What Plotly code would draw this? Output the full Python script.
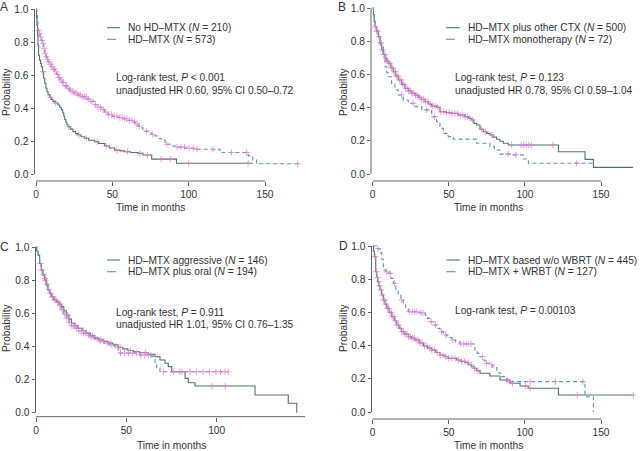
import numpy as np
import plotly.graph_objects as go

W, H = 640, 451
SOLID = "#4b7a62"
DASH = "#5896bd"
PINK = "#e07ccf"
AXC = "#666666"
TXT = "#333333"
FONT = "Liberation Sans"
FS = 10.2

# ---------------- Panel A: No HD-MTX vs HD-MTX ----------------
a_solid_t = [0, 0.3, 0.6, 1.0, 1.3, 1.7, 2.3, 3.0, 3.5, 4.2, 5.0, 5.7, 6.5, 7.2, 7.9, 9, 10, 11.1, 12.5,
             14.4, 15.5, 16.6, 17.5, 18.2, 18.8, 19.5, 20.2, 21, 22.5, 24.2, 26, 27.5, 29.5, 31.9, 34.5,
             38.4, 41, 45, 48, 51.5, 55, 58, 62, 66.8, 70, 75.8, 92, 142]
a_solid_s = [1.0, 0.95, 0.90, 0.84, 0.78, 0.72, 0.69, 0.67, 0.65, 0.62, 0.58, 0.55, 0.52, 0.50, 0.48,
             0.465, 0.452, 0.44, 0.43, 0.418, 0.405, 0.39, 0.37, 0.35, 0.33, 0.315, 0.30, 0.287, 0.272,
             0.257, 0.245, 0.236, 0.226, 0.216, 0.205, 0.196, 0.185, 0.17, 0.158, 0.145, 0.14, 0.135,
             0.13, 0.125, 0.115, 0.09, 0.065, 0.065]
a_solid_cens = [4.5, 9.5, 13, 21.5, 28, 33, 40, 46, 53, 60, 68, 73, 82, 88, 100, 139]

a_dash_t = [0, 0.5, 1, 1.3, 2, 2.7, 3.5, 4.2, 5, 5.7, 6.5, 7.2, 7.9, 9, 10, 11.1, 12.5, 13.5, 14.4, 15.8,
            17, 18.8, 20.5, 22, 23.1, 25, 27.5, 30, 33, 35.5, 38.4, 40.5, 42.8, 45, 47.2, 50, 53.7, 57,
            60.3, 63, 65, 66.8, 68.5, 70, 71.4, 73.5, 75.5, 77.9, 80, 82, 84.5, 88, 92, 97.6, 104,
            120.5, 139, 142, 144.5, 172]
a_dash_s = [1.0, 0.96, 0.92, 0.87, 0.85, 0.83, 0.81, 0.79, 0.76, 0.73, 0.71, 0.695, 0.68, 0.665, 0.65,
            0.635, 0.62, 0.605, 0.585, 0.57, 0.555, 0.535, 0.52, 0.51, 0.50, 0.49, 0.479, 0.468, 0.455,
            0.44, 0.42, 0.405, 0.39, 0.375, 0.36, 0.35, 0.342, 0.335, 0.325, 0.315, 0.305, 0.29, 0.28,
            0.27, 0.26, 0.25, 0.24, 0.23, 0.215, 0.205, 0.18, 0.17, 0.163, 0.156, 0.15, 0.13, 0.11,
            0.085, 0.062, 0.062]
a_dash_cens = [1.8, 2.4, 3.1, 3.8, 4.6, 5.3, 6.1, 6.8, 7.5, 8.3, 9.2, 9.8, 10.6, 11.4, 12.1, 13.0, 13.9,
               14.7, 15.5, 16.4, 17.3, 18.1, 19.2, 20.0, 21.1, 22.3, 23.6, 24.4, 25.5, 26.7, 27.9, 29.1,
               30.4, 31.6, 32.8, 34.2, 35.9, 37.3, 39.0, 40.6, 42.2, 43.9, 45.8, 47.6, 49.3, 51.2, 53.0,
               54.9, 56.4, 58.1, 59.6, 61.2, 62.9, 64.5, 66.1, 67.6, 72.5, 76.4, 85.6, 92.4, 95, 97.3,
               100.2, 103, 105.5, 116, 128, 138, 171.5]

# ---------------- Panel B: plus other CTX vs monotherapy ----------------
b_solid_t = [0, 0.5, 1, 1.5, 2.5, 3.7, 4.8, 5.9, 7, 8.1, 9.2, 10.3, 12, 13.5, 15, 16.8, 19, 21.2, 23.5,
             25.6, 28, 30, 32, 34.4, 36.5, 38.8, 42, 44.2, 48, 51.9, 56, 60.6, 63, 65, 66.5, 68.3, 70.5,
             72.7, 75, 77, 79, 81.4, 83.5, 85.8, 89.1, 122, 139.5, 145, 171]
b_solid_s = [1.0, 0.96, 0.92, 0.887, 0.86, 0.827, 0.79, 0.747, 0.72, 0.697, 0.68, 0.667, 0.64, 0.616,
             0.59, 0.566, 0.54, 0.516, 0.50, 0.486, 0.474, 0.462, 0.45, 0.436, 0.422, 0.41, 0.402, 0.375,
             0.37, 0.365, 0.355, 0.345, 0.335, 0.325, 0.305, 0.295, 0.27, 0.255, 0.245, 0.235, 0.222,
             0.209, 0.197, 0.185, 0.175, 0.134, 0.088, 0.04, 0.04]
b_solid_cens = [1.8, 2.6, 3.3, 4.1, 5.0, 5.6, 6.4, 7.3, 8.0, 8.8, 9.6, 10.5, 11.3, 12.2, 13.1, 14.0,
                14.9, 15.8, 16.7, 17.7, 18.6, 19.6, 20.5, 21.6, 22.6, 23.7, 24.8, 25.9, 27.1, 28.2, 29.5,
                30.7, 32.0, 33.4, 34.7, 36.2, 37.8, 39.3, 41.0, 42.8, 44.8, 46.6, 48.5, 50.3, 52.1, 54.0,
                55.8, 57.5, 59.2, 60.8, 62.3, 64.0, 65.6, 71.5, 74.3, 78.2, 91.3, 97.5, 99.2, 100.8,
                102.6, 104.3, 118.5]

b_dash_t = [0, 0.5, 1, 1.5, 2.5, 3.7, 5, 7, 8.1, 9.2, 10.3, 12.4, 14.6, 16.8, 20.1, 23.4, 27.8, 32.2,
            36.6, 38.8, 42, 44.2, 46.4, 49.7, 53, 68.3, 77, 80, 83.6, 92.4, 98.8, 102.3, 145]
b_dash_s = [1.0, 0.96, 0.92, 0.887, 0.86, 0.827, 0.78, 0.72, 0.646, 0.61, 0.586, 0.546, 0.506, 0.476,
            0.446, 0.426, 0.406, 0.386, 0.382, 0.345, 0.315, 0.275, 0.245, 0.225, 0.21, 0.185, 0.165,
            0.145, 0.12, 0.115, 0.09, 0.065, 0.065]
b_dash_cens = [19, 26.5, 35.5, 40.5, 89, 94, 134]

# ---------------- Panel C: aggressive vs plus oral ----------------
c_solid_t = [0, 0.2, 1.1, 2, 2.9, 3.8, 4.8, 5.7, 6.6, 7.5, 8.5, 9.8, 11.3, 12.7, 14, 15.4, 16.8, 18.2,
             19.6, 21.4, 23.2, 25.5, 27.8, 30, 32.5, 34.8, 37.1, 40, 42.6, 45.4, 48, 50.9, 54, 57.4,
             62.1, 65.9, 68.6, 71.4, 73.2, 75.1, 82.5, 84.3, 88, 121.2, 139.6, 144.3]
c_solid_s = [1.0, 0.976, 0.952, 0.90, 0.861, 0.83, 0.80, 0.77, 0.74, 0.72, 0.70, 0.685, 0.67, 0.655,
             0.64, 0.615, 0.59, 0.565, 0.54, 0.525, 0.51, 0.495, 0.48, 0.465, 0.45, 0.44, 0.43, 0.42,
             0.41, 0.395, 0.385, 0.375, 0.368, 0.362, 0.352, 0.338, 0.318, 0.298, 0.278, 0.247, 0.207,
             0.181, 0.161, 0.107, 0.057, 0.0]
c_solid_cens = [5.2, 9.3, 13.4, 17.6, 22.1, 26.4, 31.2, 36.0, 41.2, 46.5, 52.3, 60.5, 79.6, 97.4, 104.8]

c_dash_t = [0, 0.5, 1.1, 2, 2.9, 3.8, 4.8, 5.7, 6.6, 7.5, 8.5, 9.8, 11.3, 12.7, 14, 15.4, 16.8, 18.2,
            19.6, 21.4, 23.2, 25.5, 27.8, 30, 32.5, 35, 38, 40.5, 43.5, 45.5, 57.4, 64, 65.9, 66.8,
            68.6, 106.4]
c_dash_s = [1.0, 0.97, 0.94, 0.90, 0.86, 0.835, 0.81, 0.775, 0.745, 0.72, 0.70, 0.68, 0.665, 0.645,
            0.62, 0.595, 0.57, 0.545, 0.523, 0.51, 0.495, 0.48, 0.468, 0.455, 0.443, 0.432, 0.419,
            0.41, 0.402, 0.36, 0.348, 0.34, 0.298, 0.268, 0.247, 0.247]
c_dash_cens = [2.4, 3.2, 4.1, 5.0, 6.1, 7.0, 8.0, 9.1, 10.2, 11.0, 12.1, 13.3, 14.6, 15.9, 17.1, 18.5,
               19.9, 21.0, 22.4, 23.7, 25.0, 26.3, 27.7, 29.0, 30.6, 32.1, 33.8, 35.5, 37.4, 39.3,
               41.6, 44.2, 46.8, 49.0, 51.2, 53.5, 55.6, 58.0, 60.2, 62.1, 63.5, 70.5, 76.2, 80.8,
               85.3, 88.7, 92.4, 95.9, 99.6, 102.1, 104.6, 106.4]

# ---------------- Panel D: w/o WBRT vs + WBRT ----------------
d_solid_t = [0, 0.5, 1.1, 2, 2.7, 3.3, 4, 4.8, 5.9, 7, 8.1, 9.2, 10.8, 12.5, 14.2, 15.8, 17.4, 19, 21.2,
             23.4, 25.6, 27.8, 30.5, 33.3, 36, 38.8, 41.5, 44.2, 47, 49.7, 55.2, 58, 60.6, 62.8, 65,
             66.6, 68.3, 70.5, 77, 83.6, 90.2, 96.8, 102.2, 122, 171.2]
d_solid_s = [1.0, 0.97, 0.936, 0.845, 0.81, 0.785, 0.76, 0.735, 0.705, 0.675, 0.65, 0.625, 0.60,
             0.574, 0.55, 0.524, 0.504, 0.484, 0.469, 0.454, 0.444, 0.434, 0.416, 0.398, 0.385, 0.373,
             0.358, 0.343, 0.333, 0.323, 0.313, 0.305, 0.297, 0.285, 0.273, 0.263, 0.249, 0.233, 0.217,
             0.193, 0.173, 0.157, 0.143, 0.102, 0.102]
d_solid_cens = [1.6, 2.4, 3.1, 3.9, 4.6, 5.4, 6.2, 7.0, 7.9, 8.7, 9.6, 10.4, 11.3, 12.2, 13.1, 14.0,
                15.0, 16.0, 17.0, 18.1, 19.1, 20.2, 21.3, 22.5, 23.6, 24.8, 26.0, 27.3, 28.5, 29.8,
                31.2, 32.6, 34.1, 35.6, 37.2, 38.9, 40.6, 42.4, 44.3, 46.2, 48.1, 50.0, 52.0, 54.1,
                56.2, 58.4, 60.5, 62.6, 64.7, 66.9, 69.2, 88.6, 91.8, 100.5, 103.4, 134.5, 171.2]

d_dash_t = [0, 2.5, 4.8, 5.9, 7, 8.6, 10.3, 12, 13.6, 15.2, 16.8, 18.5, 20.1, 21.7, 23.4, 30, 34.4,
            36, 37.7, 40, 42, 44.2, 46.4, 49, 51.9, 54.5, 57.4, 65, 67.2, 68.8, 70.5, 72.2, 73.8, 77,
            79, 81.5, 83, 84.7, 88, 139.5, 145]
d_dash_s = [1.0, 0.984, 0.96, 0.92, 0.855, 0.845, 0.835, 0.805, 0.775, 0.74, 0.705, 0.675, 0.645,
            0.625, 0.604, 0.598, 0.584, 0.564, 0.544, 0.524, 0.504, 0.484, 0.464, 0.449, 0.434, 0.422,
            0.41, 0.41, 0.373, 0.353, 0.333, 0.313, 0.293, 0.283, 0.268, 0.253, 0.233, 0.213, 0.183,
            0.092, 0.0]
d_dash_cens = [3.5, 9.2, 11.5, 14.4, 19.0, 24.3, 26.0, 27.6, 29.0, 31.6, 33.0, 38.5, 41.2, 45.3,
               48.0, 52.6, 57.9, 59.8, 61.5, 63.2, 64.6, 72.0, 74.8, 78.2, 89.5, 103.5, 120.0, 138.0]

x_ticks = [0, 50, 100, 150]
y_ticks = [0.0, 0.2, 0.4, 0.6, 0.8, 1.0]

panels = [
    dict(letter="A",
         solid=(a_solid_t, a_solid_s, a_solid_cens), dash=(a_dash_t, a_dash_s, a_dash_cens),
         leg=["No HD–MTX (<i>N</i> = 210)", "HD–MTX (<i>N</i> = 573)"],
         stats=["Log-rank test, <i>P</i> < 0.001", "unadjusted HR 0.60, 95% CI 0.50–0.72"],
         x0px=36, xs=1.5267, dom_x=(34.5, 305), y1px=9, y0px=174, dom_y=(3, 181),
         leg_px=(107, 120, 126, 27.7, 39.3), stat_px=(114, 77, 90),
         letter_px=(4, 7), ylab_px=(6, 92), xlab_px=(150, 207)),
    dict(letter="B",
         solid=(b_solid_t, b_solid_s, b_solid_cens), dash=(b_dash_t, b_dash_s, b_dash_cens),
         leg=["HD–MTX plus other CTX (<i>N</i> = 500)", "HD–MTX monotherapy (<i>N</i> = 72)"],
         stats=["Log-rank test, <i>P</i> = 0.123", "unadjusted HR 0.78, 95% CI 0.59–1.04"],
         x0px=372.7, xs=1.522, dom_x=(371, 636), y1px=8, y0px=174, dom_y=(3, 181),
         leg_px=(446, 460, 465.5, 27.7, 39.3), stat_px=(452.7, 77, 90),
         letter_px=(342, 7), ylab_px=(343, 92), xlab_px=(488, 207)),
    dict(letter="C",
         solid=(c_solid_t, c_solid_s, c_solid_cens), dash=(c_dash_t, c_dash_s, c_dash_cens),
         leg=["HD–MTX aggressive (<i>N</i> = 146)", "HD–MTX plus oral (<i>N</i> = 194)"],
         stats=["Log-rank test, <i>P</i> = 0.911", "unadjusted HR 1.01, 95% CI 0.76–1.35"],
         x0px=36, xs=1.807, dom_x=(35.5, 305), y1px=247, y0px=412.7, dom_y=(241, 416.7),
         leg_px=(107, 120, 126, 260, 271.7), stat_px=(114, 312, 324.3),
         letter_px=(4, 247), ylab_px=(6, 328), xlab_px=(171, 445)),
    dict(letter="D",
         solid=(d_solid_t, d_solid_s, d_solid_cens), dash=(d_dash_t, d_dash_s, d_dash_cens),
         leg=["HD–MTX based w/o WBRT (<i>N</i> = 445)", "HD–MTX + WRBT (<i>N</i> = 127)"],
         stats=["Log-rank test, <i>P</i> = 0.00103"],
         x0px=372.7, xs=1.522, dom_x=(371.5, 636), y1px=246, y0px=412, dom_y=(240, 419),
         leg_px=(446.5, 460, 465.5, 260, 271.7), stat_px=(453, 310, 323),
         letter_px=(343, 246), ylab_px=(343, 328), xlab_px=(488, 445)),
]


def step_at(t, s, c):
    t = np.asarray(t, float)
    s = np.asarray(s, float)
    idx = np.searchsorted(t, np.asarray(c, float), side="right") - 1
    return s[np.clip(idx, 0, len(s) - 1)]


fig = go.Figure()
shapes = []
annotations = []
layout_axes = {}
font = dict(family=FONT, size=FS, color=TXT)

for i, p in enumerate(panels, start=1):
    xa = "x" if i == 1 else f"x{i}"
    ya = "y" if i == 1 else f"y{i}"
    xkey = "xaxis" if i == 1 else f"xaxis{i}"
    ykey = "yaxis" if i == 1 else f"yaxis{i}"

    for key, color, dash in (("solid", SOLID, "solid"), ("dash", DASH, "4px,3px")):
        t, s, c = p[key]
        fig.add_trace(go.Scatter(x=t, y=s, mode="lines", line=dict(color=color, width=1.1, dash=dash, shape="hv"),
                                 xaxis=xa, yaxis=ya, showlegend=False, hoverinfo="skip"))
    for key in ("solid", "dash"):
        t, s, c = p[key]
        fig.add_trace(go.Scatter(x=c, y=step_at(t, s, c), mode="markers", opacity=0.75,
                                 marker=dict(symbol="cross-thin", size=4.5, line=dict(width=1, color=PINK)),
                                 xaxis=xa, yaxis=ya, showlegend=False, hoverinfo="skip"))

    left, right = p["dom_x"]
    top, bottom = p["dom_y"]
    xr = [(left - p["x0px"]) / p["xs"], (right - p["x0px"]) / p["xs"]]
    ysc = p["y0px"] - p["y1px"]
    yr = [(p["y0px"] - bottom) / ysc, (p["y0px"] - top) / ysc]

    layout_axes[xkey] = dict(domain=[left / W, right / W], range=xr, anchor=ya, showgrid=False,
                             zeroline=False, showline=False, ticks="outside", ticklen=4, tickwidth=1,
                             tickcolor=AXC, tickvals=x_ticks, tickfont=font, fixedrange=True,
                             automargin=False)
    layout_axes[ykey] = dict(domain=[1 - bottom / H, 1 - top / H], range=yr, anchor=xa, showgrid=False,
                             zeroline=False, showline=False, ticks="outside", ticklen=3, tickwidth=1,
                             tickcolor=AXC, tickvals=y_ticks, tickformat=".1f", tickfont=font,
                             fixedrange=True, automargin=False)

    shapes.append(dict(type="line", xref=xa, yref=f"{ya} domain", x0=0, x1=150, y0=0, y1=0,
                       line=dict(color=AXC, width=1)))
    shapes.append(dict(type="line", xref=f"{xa} domain", yref=ya, x0=0, x1=0, y0=0, y1=1,
                       line=dict(color=AXC, width=1)))

    lx0, lx1, ltx, ly1, ly2 = p["leg_px"]
    for (ly, color, dash, txt) in ((ly1, SOLID, "solid", p["leg"][0]), (ly2, DASH, "dash", p["leg"][1])):
        shapes.append(dict(type="line", xref="paper", yref="paper", x0=lx0 / W, x1=lx1 / W,
                           y0=1 - ly / H, y1=1 - ly / H, line=dict(color=color, width=1.1, dash=dash)))
        annotations.append(dict(x=ltx / W, y=1 - ly / H, xref="paper", yref="paper", text=txt,
                                showarrow=False, xanchor="left", yanchor="middle", font=font))
    sx = p["stat_px"][0]
    for k, txt in enumerate(p["stats"]):
        sy = p["stat_px"][1 + k]
        annotations.append(dict(x=sx / W, y=1 - sy / H, xref="paper", yref="paper", text=txt,
                                showarrow=False, xanchor="left", yanchor="middle", font=font))
    annotations.append(dict(x=p["letter_px"][0] / W, y=1 - p["letter_px"][1] / H, xref="paper",
                            yref="paper", text=p["letter"], showarrow=False, xanchor="center",
                            yanchor="middle", font=dict(family=FONT, size=12, color=TXT)))
    annotations.append(dict(x=p["ylab_px"][0] / W, y=1 - p["ylab_px"][1] / H, xref="paper",
                            yref="paper", text="Probability", textangle=-90, showarrow=False,
                            xanchor="center", yanchor="middle", font=font))
    annotations.append(dict(x=p["xlab_px"][0] / W, y=1 - p["xlab_px"][1] / H, xref="paper",
                            yref="paper", text="Time in months", showarrow=False,
                            xanchor="center", yanchor="middle", font=font))

fig.update_layout(width=W, height=H, margin=dict(l=0, r=0, t=0, b=0, autoexpand=False),
                  paper_bgcolor="white", plot_bgcolor="white", shapes=shapes, annotations=annotations,
                  showlegend=False, **layout_axes)

fig.write_html("out.html", config={"displayModeBar": False},
               post_script="document.body.style.margin='0px';document.body.style.padding='0px';")
